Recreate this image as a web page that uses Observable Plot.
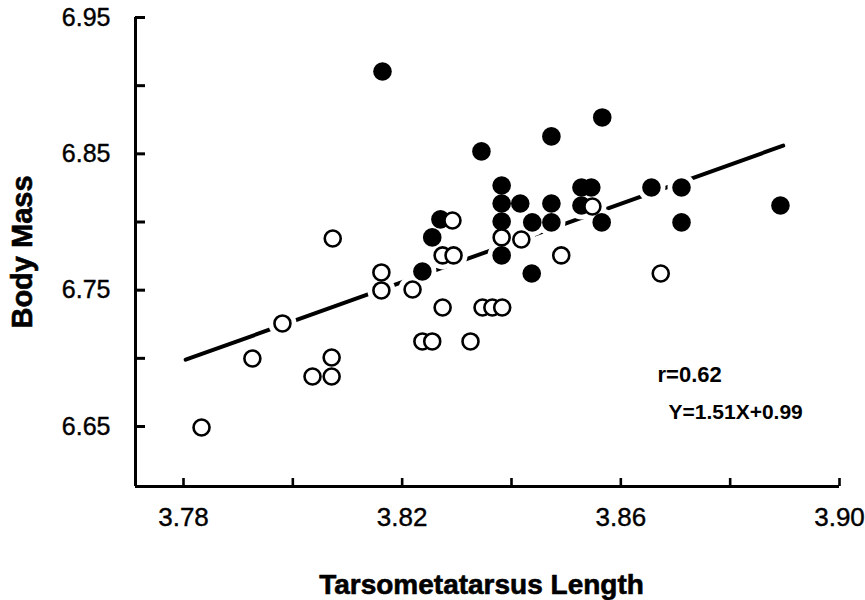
<!DOCTYPE html>
<html>
<head>
<meta charset="utf-8">
<script src="https://cdn.jsdelivr.net/npm/d3@7"></script>
<script src="https://cdn.jsdelivr.net/npm/@observablehq/plot@0.6"></script>
<style>
  html, body { margin: 0; padding: 0; background: #fff; }
</style>
</head>
<body>
<div id="chart"></div>
<script>
// Filled circles
const filledX = [3.8164, 3.8566, 3.8473, 3.8345, 3.8382, 3.8382, 3.8382, 3.8382, 3.8416, 3.8438, 3.8473, 3.8473,
                 3.8528, 3.8546, 3.8528, 3.8565, 3.8656, 3.8711, 3.8711, 3.8892, 3.8270, 3.8255, 3.8237, 3.8437];
const filledY = [6.9104, 6.8767, 6.8628, 6.8518, 6.8268, 6.8136, 6.8004, 6.7755, 6.8136, 6.7997, 6.8136, 6.7997,
                 6.8253, 6.8253, 6.8121, 6.7997, 6.8253, 6.8253, 6.7997, 6.8121, 6.8019, 6.7887, 6.7637, 6.7622];
// Open circles
const openX = [3.8548, 3.8292, 3.8382, 3.8418, 3.8491, 3.8274, 3.8294, 3.8219, 3.8162, 3.8162, 3.8073, 3.8673,
               3.7981, 3.7926, 3.8071, 3.8071, 3.8036, 3.7833, 3.8274, 3.8347, 3.8365, 3.8383, 3.8237, 3.8255, 3.8325];
const openY = [6.8114, 6.8011, 6.7887, 6.7872, 6.7755, 6.7755, 6.7755, 6.7505, 6.7630, 6.7498, 6.7879, 6.7622,
               6.7256, 6.6999, 6.7006, 6.6867, 6.6867, 6.6493, 6.7373, 6.7373, 6.7373, 6.7373, 6.7124, 6.7124, 6.7124];
// Regression line end points
const fitX = [3.7804, 3.8897];
const fitY = [6.699, 6.856];

const xTicks = [3.78, 3.80, 3.82, 3.84, 3.86, 3.88, 3.90];
const xLabels = [3.78, 3.82, 3.86, 3.90];
const yTicks = [6.65, 6.70, 6.75, 6.80, 6.85, 6.90, 6.95];
const yLabels = [6.65, 6.75, 6.85, 6.95];

const xDomain = [3.77122, 3.90];
const yDomain = [6.606, 6.95];

const xTitle = "Tarsometatarsus Length";
const yTitle = "Body Mass";
const statR = "r=0.62";
const statEq = "Y=1.51X+0.99";

const filled = filledX.map((x, i) => ({x, y: filledY[i]}));
const open = openX.map((x, i) => ({x, y: openY[i]}));
const all = filled.concat(open);
const fit = fitX.map((x, i) => ({x, y: fitY[i]}));

const fmt = d3.format(".2f");
const font = "'Liberation Sans', Arial, Helvetica, sans-serif";

const chart = Plot.plot({
  width: 865,
  height: 600,
  marginLeft: 135,
  marginRight: 26,
  marginTop: 17,
  marginBottom: 114,
  style: {fontFamily: font, background: "#fff", color: "#000"},
  x: {domain: xDomain, axis: null},
  y: {domain: yDomain, axis: null},
  marks: [
    // axis lines
    Plot.ruleX([xDomain[0]], {stroke: "#000", strokeWidth: 3}),
    Plot.ruleY([yDomain[0]], {stroke: "#000", strokeWidth: 3}),
    // inward ticks
    Plot.axisY({ticks: yTicks, tickSize: 10, dx: 10, tickFormat: () => "", label: null, strokeWidth: 3, stroke: "#000"}),
    Plot.axisX({ticks: xTicks, tickSize: 8, dy: -8, tickFormat: () => "", label: null, strokeWidth: 2.6, stroke: "#000"}),
    // tick labels
    Plot.axisY({ticks: yLabels, tickSize: 0, tickPadding: 25, tickFormat: fmt, label: null, fontSize: 25, fill: "#000", textStroke: "#000", textStrokeWidth: 0.4}),
    Plot.axisX({ticks: xLabels, tickSize: 0, tickPadding: 21, tickFormat: fmt, label: null, fontSize: 26, fill: "#000", textStroke: "#000", textStrokeWidth: 0.4}),
    // regression line
    Plot.line(fit, {x: "x", y: "y", stroke: "#000", strokeWidth: 4}),
    // white halos
    Plot.dot(all, {x: "x", y: "y", r: 14, fill: "#fff", stroke: "none"}),
    // data
    Plot.dot(filled, {x: "x", y: "y", r: 9.3, fill: "#000", stroke: "none"}),
    Plot.dot(open, {x: "x", y: "y", r: 8, fill: "#fff", stroke: "#000", strokeWidth: 2.6}),
    // titles
    Plot.text([yTitle], {frameAnchor: "left", dx: -113, rotate: -90, textAnchor: "middle", lineAnchor: "middle", fontSize: 29, fontWeight: "bold", fill: "#000", stroke: "#000", strokeWidth: 0.6}),
    Plot.text([xTitle], {frameAnchor: "bottom", dx: -6, dy: 99, textAnchor: "middle", lineAnchor: "middle", fontSize: 28, fontWeight: "bold", fill: "#000", stroke: "#000", strokeWidth: 0.6}),
    // statistics
    Plot.text([statR], {frameAnchor: "top-left", dx: 522, dy: 357, textAnchor: "start", lineAnchor: "middle", fontSize: 22, fontWeight: "bold", fill: "#000"}),
    Plot.text([statEq], {frameAnchor: "top-left", dx: 533, dy: 395, textAnchor: "start", lineAnchor: "middle", fontSize: 21, fontWeight: "bold", fill: "#000"})
  ]
});
document.getElementById("chart").appendChild(chart);
</script>
</body>
</html>
